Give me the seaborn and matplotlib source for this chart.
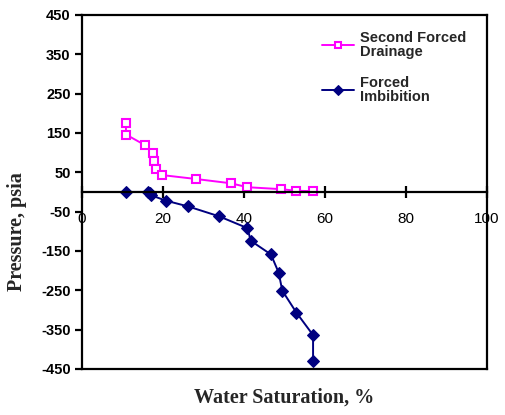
import matplotlib
matplotlib.use("Agg")
import matplotlib.pyplot as plt
import seaborn as sns
import pandas as pd

# Second forced drainage: water saturation (%) vs capillary pressure (psia)
drain_sw = [10.9, 10.9, 15.6, 17.6, 17.8, 18.4, 19.7, 28.1, 36.8, 40.9, 49.3, 52.8, 57.2]
drain_p = [174, 146, 119, 99, 79, 59, 43, 33, 22, 12, 7, 3, 2]

# Forced imbibition
imb_sw = [11.0, 16.4, 16.8, 17.0, 20.7, 26.3, 33.9, 40.9, 41.7, 46.7, 48.6, 49.5, 53.0, 57.1, 57.1]
imb_p = [0, 0, -2, -8, -22, -37, -62, -92, -124, -159, -205, -251, -307, -364, -430]

x_ticks = [0, 20, 40, 60, 80, 100]
y_ticks = [450, 350, 250, 150, 50, -50, -150, -250, -350, -450]

sns.set_theme(style="white")
plt.rcParams["font.family"] = ["Liberation Sans", "DejaVu Sans"]

fig = plt.figure(figsize=(5.05, 4.15), dpi=100)
ax = fig.add_axes([0.162, 0.111, 0.802, 0.853])

df_d = pd.DataFrame({"sw": drain_sw, "p": drain_p})
df_i = pd.DataFrame({"sw": imb_sw, "p": imb_p})

sns.lineplot(data=df_d, x="sw", y="p", sort=False, estimator=None, ax=ax,
             color="#FF00FF", lw=1.4, marker="s", markersize=6,
             markerfacecolor="white", markeredgecolor="#FF00FF", markeredgewidth=1.5,
             label="Second Forced\nDrainage")
sns.lineplot(data=df_i, x="sw", y="p", sort=False, estimator=None, ax=ax,
             color="#000080", lw=1.4, marker="D", markersize=6,
             markerfacecolor="#000080", markeredgecolor="#000080",
             label="Forced\nImbibition")

ax.set_xlim(0, 100)
ax.set_ylim(-450, 450)
ax.set_xticks(x_ticks)
ax.set_yticks(y_ticks)
ax.set_xticklabels([str(v) for v in x_ticks], fontweight="bold", fontsize=11.5)
ax.set_yticklabels([str(v) for v in y_ticks], fontweight="bold", fontsize=10.5)

# x axis runs through zero pressure; box closes the plot area
ax.spines["bottom"].set_position(("data", 0))
for s in ["left", "right", "top", "bottom"]:
    ax.spines[s].set_color("black")
    ax.spines[s].set_linewidth(1.6)
ax.plot([0, 1], [0, 0], transform=ax.transAxes, color="black", lw=1.6,
        clip_on=False, solid_capstyle="projecting")

ax.tick_params(axis="x", direction="inout", length=9, width=1.6, pad=10,
               bottom=True, colors="black")
ax.tick_params(axis="y", direction="out", length=5, width=1.6, pad=3,
               left=True, colors="black")

ax.set_xlabel("")
ax.set_ylabel("Pressure, psia", fontfamily="Liberation Serif", fontweight="bold",
              fontsize=14.5)
ax.yaxis.set_label_coords(-0.135, 0.387)
fig.text(0.562, 0.043, "Water Saturation, %", ha="center", va="center",
         fontfamily="Liberation Serif", fontweight="bold", fontsize=14.5)

leg = ax.legend(loc="upper left", bbox_to_anchor=(0.56, 0.993), frameon=False,
                prop={"weight": "bold", "size": 10.5}, handlelength=2.2,
                handletextpad=0.4, labelspacing=1.2, markerscale=0.8)
for t in leg.get_texts():
    t.set_linespacing(1.0)

fig.savefig("out.png", dpi=100)
